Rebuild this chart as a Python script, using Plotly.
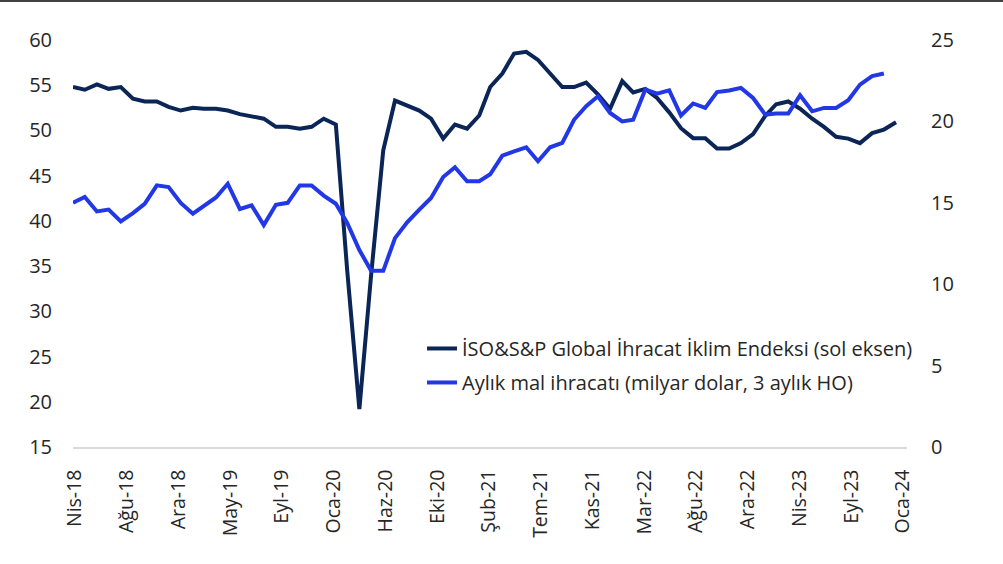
import pandas as pd
import plotly.graph_objects as go

# İSO&S&P Global İhracat İklim Endeksi, monthly Nis-18 .. Oca-24 (left axis)
climate_index = [
    54.8, 54.5, 55.1, 54.6, 54.8, 53.5, 53.2, 53.2, 52.6, 52.2,
    52.5, 52.4, 52.4, 52.2, 51.8, 51.5, 51.3, 50.4, 50.4, 50.2,
    50.4, 51.3, 50.65, 34.5, 19.2, 34.0, 47.8, 53.3, 52.75, 52.2,
    51.3, 49.1, 50.65, 50.2, 51.65, 54.8, 56.3, 58.5, 58.7, 57.8,
    56.3, 54.8, 54.8, 55.3, 54.0, 52.4, 55.45, 54.2, 54.6, 53.6,
    52.0, 50.25, 49.15, 49.15, 48.0, 48.0, 48.6, 49.6, 51.6, 52.9,
    53.2, 52.4, 51.3, 50.4, 49.3, 49.1, 48.6, 49.7, 50.1, 50.9,
]

# Aylık mal ihracatı (milyar dolar, 3 aylık HO), Nis-18 .. Ara-23 (right axis)
monthly_exports = [
    15.0, 15.36, 14.47, 14.58, 13.86, 14.37, 14.94, 16.07, 15.97, 14.99,
    14.33, 14.82, 15.33, 16.17, 14.62, 14.84, 13.63, 14.88, 15.0, 16.07,
    16.07, 15.44, 14.94, 13.76, 12.1, 10.82, 10.82, 12.83, 13.8, 14.58,
    15.3, 16.58, 17.18, 16.32, 16.32, 16.75, 17.9, 18.16, 18.41, 17.55,
    18.41, 18.68, 20.1, 20.93, 21.54, 20.52, 20.0, 20.1, 21.96, 21.7,
    21.91, 20.36, 21.1, 20.83, 21.8, 21.9, 22.06, 21.44, 20.42, 20.48,
    20.48, 21.6, 20.62, 20.83, 20.83, 21.3, 22.26, 22.78, 22.94,
]

tick_labels = [
    "Nis-18", "Ağu-18", "Ara-18", "May-19", "Eyl-19", "Oca-20", "Haz-20",
    "Eki-20", "Şub-21", "Tem-21", "Kas-21", "Mar-22", "Ağu-22", "Ara-22",
    "Nis-23", "Eyl-23", "Oca-24",
]

name_index = "İSO&S&P Global İhracat İklim Endeksi (sol eksen)"
name_exports = "Aylık mal ihracatı (milyar dolar, 3 aylık HO)"

dates_index = pd.date_range("2018-04-01", periods=len(climate_index), freq="MS")
dates_exports = pd.date_range("2018-04-01", periods=len(monthly_exports), freq="MS")

start = pd.Timestamp("2018-04-01")
tick_vals = [start + pd.Timedelta(days=5 + 132.1 * k) for k in range(len(tick_labels))]

DARK = "#0b2557"
BLUE = "#2238e6"
FONT = "Open Sans"
TXT = "#262626"

fig = go.Figure()
fig.add_trace(go.Scatter(
    x=dates_index, y=climate_index, name=name_index, mode="lines",
    line=dict(color=DARK, width=4), yaxis="y", legendgroup="a",
))
fig.add_trace(go.Scatter(
    x=dates_exports, y=monthly_exports, name=name_exports, mode="lines",
    line=dict(color=BLUE, width=4), yaxis="y2", legendgroup="b",
))

fig.update_layout(
    width=1003, height=564,
    margin=dict(l=73, r=96, t=40, b=117, autoexpand=False),
    paper_bgcolor="white", plot_bgcolor="white",
    font=dict(family=FONT, size=20, color=TXT),
    xaxis=dict(
        range=["2018-04-01", "2024-01-29"],
        tickmode="array", tickvals=tick_vals, ticktext=tick_labels,
        tickangle=-90, ticks="", showgrid=False, zeroline=False,
        showline=True, linecolor="#d9d9d9", linewidth=1.5,
        tickfont=dict(family=FONT, size=19.5, color=TXT),
        ticklabelstandoff=13,
    ),
    yaxis=dict(
        range=[15, 60], dtick=5, tick0=15, showgrid=False, zeroline=False,
        showline=False, ticks="", tickfont=dict(family=FONT, size=20, color=TXT),
        ticklabelstandoff=20,
    ),
    yaxis2=dict(
        range=[0, 25], dtick=5, tick0=0, overlaying="y", side="right",
        showgrid=False, zeroline=False, showline=False, ticks="",
        tickfont=dict(family=FONT, size=20, color=TXT),
        ticklabelstandoff=23,
    ),
    showlegend=True,
    legend=dict(
        x=0.4185, y=0.29, xanchor="left", yanchor="top",
        font=dict(family=FONT, size=20, color=TXT),
        bgcolor="rgba(0,0,0,0)", borderwidth=0,
        tracegroupgap=5, traceorder="grouped",
    ),
    shapes=[dict(
        type="line", xref="paper", yref="paper",
        x0=-0.1, x1=1.2, y0=1.096, y1=1.096,
        line=dict(color="#000000", width=1.5),
    )],
)

fig.write_html(
    "out.html",
    config={"displayModeBar": False},
    post_script="document.body.style.margin='0';",
)
